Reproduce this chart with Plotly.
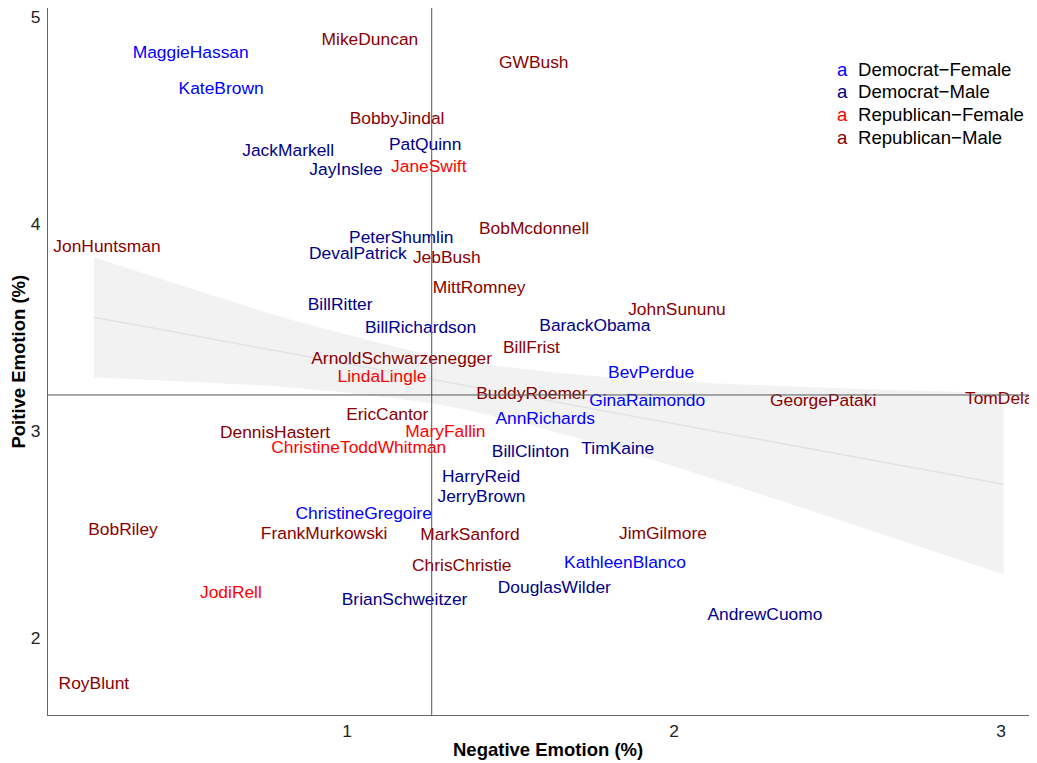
import plotly.graph_objects as go

# ---- data ----
names = ["MaggieHassan", "MikeDuncan", "GWBush", "KateBrown", "BobbyJindal", "JackMarkell",
         "PatQuinn", "JaneSwift", "JayInslee", "BobMcdonnell", "JonHuntsman", "PeterShumlin",
         "DevalPatrick", "JebBush", "MittRomney", "JohnSununu", "BillRitter", "BillRichardson",
         "BarackObama", "BillFrist", "ArnoldSchwarzenegger", "LindaLingle", "BevPerdue",
         "BuddyRoemer", "GinaRaimondo", "GeorgePataki", "TomDelay", "EricCantor", "AnnRichards",
         "DennisHastert", "MaryFallin", "ChristineToddWhitman", "BillClinton", "TimKaine",
         "HarryReid", "JerryBrown", "ChristineGregoire", "BobRiley", "FrankMurkowski",
         "MarkSanford", "JimGilmore", "ChrisChristie", "KathleenBlanco", "DouglasWilder",
         "JodiRell", "BrianSchweitzer", "AndrewCuomo", "RoyBlunt"]
negative = [0.522, 1.070, 1.571, 0.615, 1.153, 0.820,
            1.239, 1.250, 0.997, 1.572, 0.266, 1.166,
            1.033, 1.305, 1.404, 2.009, 0.979, 1.225,
            1.758, 1.564, 1.167, 1.107, 1.930,
            1.565, 1.918, 2.456, 3.008, 1.123, 1.606,
            0.780, 1.301, 1.036, 1.561, 1.828,
            1.410, 1.411, 1.051, 0.315, 0.930,
            1.376, 1.966, 1.351, 1.850, 1.634,
            0.645, 1.176, 2.278, 0.226]
positive = [4.821, 4.884, 4.776, 4.647, 4.506, 4.349,
            4.377, 4.274, 4.257, 3.971, 3.884, 3.931,
            3.850, 3.834, 3.686, 3.580, 3.604, 3.493,
            3.504, 3.400, 3.343, 3.256, 3.275,
            3.174, 3.142, 3.140, 3.150, 3.072, 3.053,
            2.989, 2.994, 2.916, 2.895, 2.908,
            2.774, 2.678, 2.594, 2.517, 2.501,
            2.493, 2.498, 2.344, 2.361, 2.237,
            2.216, 2.180, 2.106, 1.773]
group = ["DF", "RM", "RM", "DF", "RM", "DM",
         "DM", "RF", "DM", "RM", "RM", "DM",
         "DM", "RM", "RM", "RM", "DM", "DM",
         "DM", "RM", "RM", "RF", "DF",
         "RM", "DF", "RM", "RM", "RM", "DF",
         "RM", "RF", "RF", "DM", "DM",
         "DM", "DM", "DF", "RM", "RM",
         "RM", "RM", "RM", "DF", "DM",
         "RF", "DM", "DM", "RM"]
group_codes = ["DF", "DM", "RF", "RM"]
group_labels = ["Democrat\u2212Female", "Democrat\u2212Male", "Republican\u2212Female", "Republican\u2212Male"]
group_colors = ["#0000FF", "#00008B", "#FF0000", "#8B0000"]

# fitted trend line and its confidence band
band_x = [0.226, 0.551, 0.856, 1.305, 1.774, 2.232, 2.691, 3.008]
band_fit = [3.549, 3.455, 3.366, 3.236, 3.100, 2.967, 2.833, 2.743]
band_upper = [3.839, 3.674, 3.526, 3.352, 3.263, 3.223, 3.197, 3.185]
band_lower = [3.259, 3.236, 3.206, 3.121, 2.937, 2.711, 2.472, 2.308]

vline_x = 1.259
hline_y = 3.174
x_ticks = [1, 2, 3]
y_ticks = [2, 3, 4, 5]

FONT = "Liberation Sans, Arial, Helvetica, sans-serif"

fig = go.Figure()
fig.add_trace(go.Scatter(x=band_x, y=band_lower, mode="lines",
                         line=dict(width=0, shape="spline", smoothing=0.8, color="rgba(0,0,0,0)"),
                         hoverinfo="skip", showlegend=False))
fig.add_trace(go.Scatter(x=band_x, y=band_upper, mode="lines", fill="tonexty", fillcolor="#f2f2f2",
                         line=dict(width=0, shape="spline", smoothing=0.8, color="rgba(0,0,0,0)"),
                         hoverinfo="skip", showlegend=False))
fig.add_trace(go.Scatter(x=band_x, y=band_fit, mode="lines", line=dict(color="#e2e2e2", width=1.5),
                         hoverinfo="skip", showlegend=False))

for code, color in zip(group_codes, group_colors):
    idx = [i for i, g in enumerate(group) if g == code]
    fig.add_trace(go.Scatter(
        x=[negative[i] for i in idx], y=[positive[i] for i in idx],
        text=[names[i] for i in idx], mode="text", textposition="middle center",
        textfont=dict(family=FONT, size=17.4, color=color), showlegend=False,
        cliponaxis=True))

x_range = [0.0856, 3.11]
y_range = [1.628, 5.0435]

fig.add_shape(type="line", xref="x", yref="y", x0=vline_x, x1=vline_x, y0=y_range[0], y1=y_range[1],
              line=dict(color="#555555", width=1), layer="above")
fig.add_shape(type="line", xref="x", yref="y", x0=x_range[0], x1=x_range[1], y0=hline_y, y1=hline_y,
              line=dict(color="#555555", width=1), layer="above")

# legend built from the group lists
leg_y0 = 0.9137
leg_dy = 0.0321
for k, (lab, color) in enumerate(zip(group_labels, group_colors)):
    yy = leg_y0 - k * leg_dy
    fig.add_annotation(xref="paper", yref="paper", x=0.8036, y=yy, text="a", showarrow=False,
                       xanchor="center", yanchor="middle", font=dict(family=FONT, size=18.6, color=color))
    fig.add_annotation(xref="paper", yref="paper", x=0.8165, y=yy, text=lab, showarrow=False,
                       xanchor="left", yanchor="middle", font=dict(family=FONT, size=18.6, color="black"))

fig.add_annotation(xref="paper", yref="paper", x=0.5056, y=-0.0495, text="<b>Negative Emotion (%)</b>",
                   showarrow=False, xanchor="center", yanchor="middle",
                   font=dict(family=FONT, size=18.5, color="black"))
fig.add_annotation(xref="paper", yref="paper", x=-0.0303, y=0.5, text="<b>Poitive Emotion (%)</b>",
                   showarrow=False, xanchor="center", yanchor="middle", textangle=-90,
                   font=dict(family=FONT, size=18.5, color="black"))

fig.update_layout(
    width=1029, height=755,
    margin=dict(l=40, r=0, t=0, b=48),
    paper_bgcolor="white", plot_bgcolor="white",
    showlegend=False,
    xaxis=dict(range=x_range, tickvals=x_ticks, ticktext=[str(v) for v in x_ticks],
               showgrid=False, zeroline=False, showline=True, linecolor="#666666", linewidth=1,
               ticks="", ticklabeloverflow="allow",
               tickfont=dict(family=FONT, size=17.4, color="#222222")),
    yaxis=dict(range=y_range, tickvals=y_ticks, ticktext=[str(v) for v in y_ticks],
               showgrid=False, zeroline=False, showline=True, linecolor="#666666", linewidth=1,
               ticks="outside", ticklen=3, tickcolor="rgba(0,0,0,0)", ticklabeloverflow="allow",
               tickfont=dict(family=FONT, size=17.4, color="#222222")),
)

fig.write_html("out.html")
